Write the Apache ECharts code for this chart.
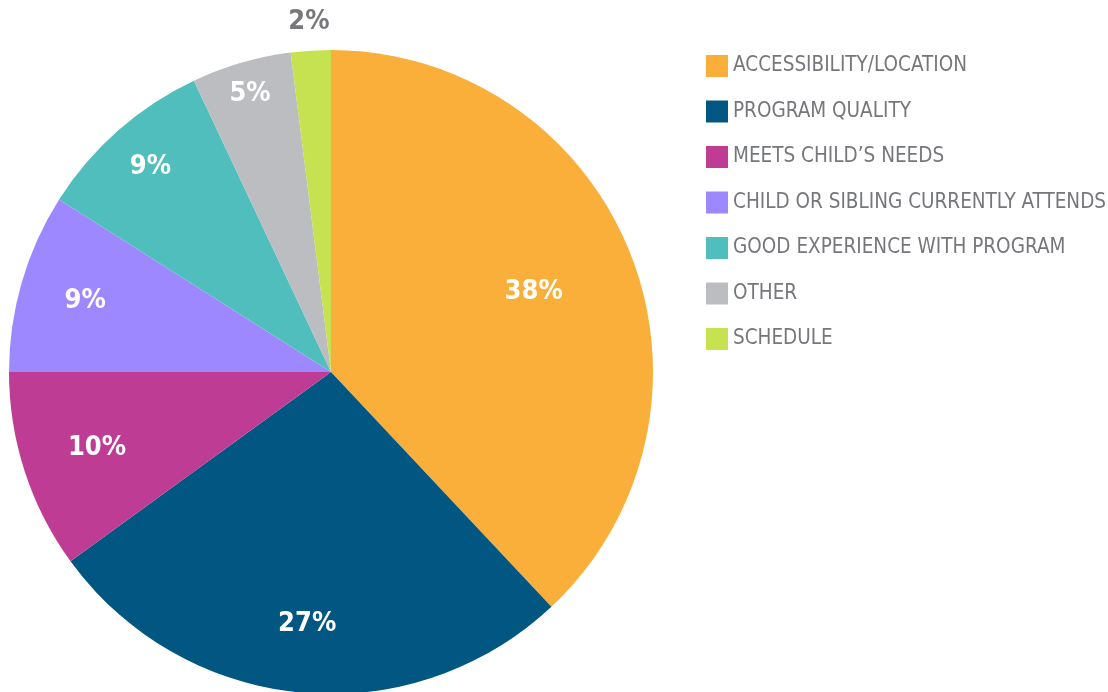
<!DOCTYPE html>
<html>
<head>
<meta charset="utf-8">
<script src="https://cdn.jsdelivr.net/npm/echarts@6/dist/echarts.min.js"></script>
<style>
  html, body { margin: 0; padding: 0; background: #ffffff; }
  #chart { width: 1108px; height: 692px; }
</style>
</head>
<body>
<div id="chart"></div>
<script>
// Reasons for choosing the program (share of responses, %)
const categories = [
  'ACCESSIBILITY/LOCATION',
  'PROGRAM QUALITY',
  'MEETS CHILD\u2019S NEEDS',
  'CHILD OR SIBLING CURRENTLY ATTENDS',
  'GOOD EXPERIENCE WITH PROGRAM',
  'OTHER',
  'SCHEDULE'
];
const values = [38, 27, 10, 9, 9, 5, 2];
const colors = ['#F9AF3A', '#015781', '#BF3C94', '#9E88FF', '#51BEBE', '#BCBDC1', '#C6E251'];

const FONT = "'Liberation Sans Narrow', 'DejaVu Sans Condensed', 'Arial Narrow', sans-serif";
const CENTER = [331, 372];
const R = 322;
// distance of each percentage label from the pie centre (px)
const LABEL_DIST = [215, 250, 243, 253, 270, 287, 348];

const chart = echarts.init(document.getElementById('chart'), null, { renderer: 'canvas' });

const pieData = categories.map((name, i) => ({
  name: name,
  value: values[i],
  itemStyle: { color: colors[i] }
}));

// Transparent ring that only carries the label of one slice, placed
// at the requested distance from the centre.
function labelRing(idx) {
  const d = LABEL_DIST[idx];
  const outside = d > R;
  const inner = outside ? R + 2 : 0;
  const outer = 2 * d - inner;
  return {
    id: 'lbl' + idx,
    type: 'pie',
    center: CENTER,
    radius: [inner, outer],
    startAngle: 90,
    clockwise: true,
    silent: true,
    legendHoverLink: false,
    emphasis: { disabled: true },
    itemStyle: { color: 'transparent', borderWidth: 0 },
    labelLine: { show: false },
    z: 5,
    data: categories.map((name, i) => ({
      name: name,
      value: values[i],
      label: {
        show: i === idx,
        position: 'inside',
        formatter: '{c}%',
        color: outside ? '#77787B' : '#ffffff',
        fontFamily: FONT,
        fontWeight: 'bold',
        fontSize: 27
      }
    }))
  };
}

const option = {
  backgroundColor: '#ffffff',
  animation: false,
  color: colors,
  legend: {
    orient: 'vertical',
    left: 706,
    top: 55,
    padding: 0,
    itemWidth: 22,
    itemHeight: 22,
    itemGap: 23.5,
    icon: 'rect',
    selectedMode: false,
    data: categories,
    textStyle: {
      color: '#76777B',
      fontFamily: FONT,
      fontSize: 20.5
    }
  },
  series: [
    {
      id: 'main',
      name: 'Reasons',
      type: 'pie',
      center: CENTER,
      radius: [0, R],
      startAngle: 90,
      clockwise: true,
      emphasis: { disabled: true },
      label: { show: false },
      labelLine: { show: false },
      itemStyle: { borderWidth: 0 },
      data: pieData
    }
  ].concat(categories.map((_, i) => labelRing(i)))
};

chart.setOption(option);
</script>
</body>
</html>
